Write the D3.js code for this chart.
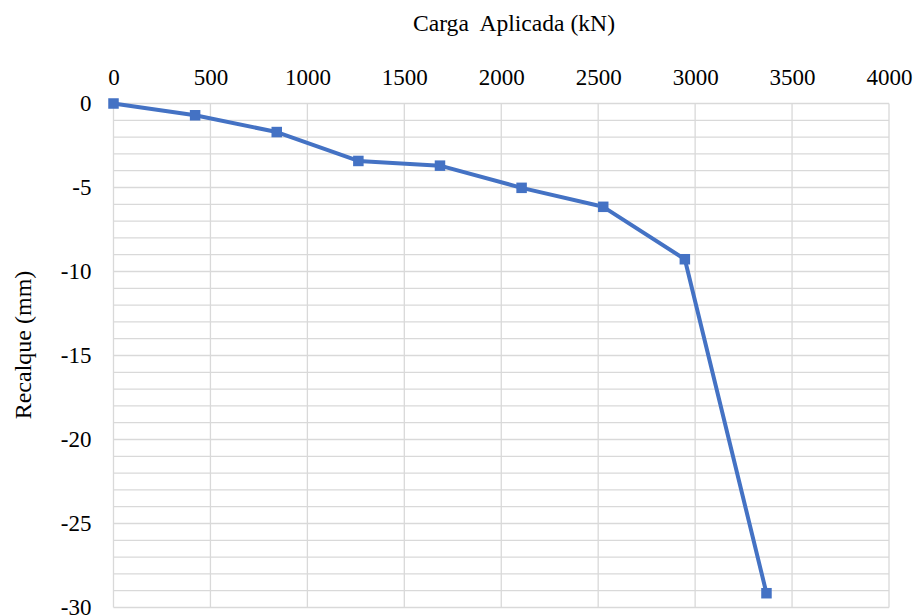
<!DOCTYPE html>
<html>
<head>
<meta charset="utf-8">
<script src="https://cdn.jsdelivr.net/npm/d3@7"></script>
<style>
  html, body { margin: 0; padding: 0; background: #fff; }
  svg text { fill: #000; white-space: pre; }
</style>
</head>
<body>
<svg id="chart" width="916" height="615"></svg>
<script>
// Load test: applied load (kN) vs settlement (mm)
const cargas = [0, 421, 842, 1263, 1684, 2105, 2526, 2947, 3368];
const recalques = [0, -0.7, -1.7, -3.42, -3.7, -5.02, -6.15, -9.27, -29.15];
const xTicks = [0, 500, 1000, 1500, 2000, 2500, 3000, 3500, 4000];
const yTicks = [0, -5, -10, -15, -20, -25, -30];
const yMinor = d3.range(0, -31, -1);

const FONT = "'Liberation Serif', 'Times New Roman', serif";
const svg = d3.select("#chart");
const margin = { left: 113.5, right: 916 - 889, top: 103.5, bottom: 615 - 607.5 };
const W = 916 - margin.left - margin.right;
const H = 615 - margin.top - margin.bottom;

const x = d3.scaleLinear().domain([0, 4000]).range([0, W]);
const y = d3.scaleLinear().domain([0, -30]).range([0, H]);

const g = svg.append("g").attr("transform", `translate(${margin.left},${margin.top})`);

// gridlines: every 1 mm horizontally, every 500 kN vertically
g.append("g").selectAll("line").data(yMinor).join("line")
  .attr("x1", 0).attr("x2", W)
  .attr("y1", d => y(d)).attr("y2", d => y(d))
  .attr("stroke", "#d9d9d9").attr("stroke-width", 1.3);
g.append("g").selectAll("line").data(xTicks).join("line")
  .attr("y1", 0).attr("y2", H)
  .attr("x1", d => x(d)).attr("x2", d => x(d))
  .attr("stroke", "#d9d9d9").attr("stroke-width", 1.3);

// axes (labels only)
const xAxis = g.append("g").call(d3.axisTop(x).tickValues(xTicks).tickSize(0).tickPadding(18.5).tickFormat(d3.format("d")));
xAxis.attr("font-family", FONT).select(".domain").remove();
xAxis.selectAll("text").attr("font-size", 23).attr("font-family", FONT);

const yAxis = g.append("g").call(d3.axisLeft(y).tickValues(yTicks).tickSize(0).tickPadding(22).tickFormat(d => d));
yAxis.attr("font-family", FONT).select(".domain").remove();
yAxis.selectAll("text").attr("font-size", 23).attr("font-family", FONT);

// series
const pts = cargas.map((c, i) => [c, recalques[i]]);
g.append("path").datum(pts)
  .attr("fill", "none").attr("stroke", "#4472C4").attr("stroke-width", 4)
  .attr("stroke-linejoin", "round")
  .attr("d", d3.line().x(d => x(d[0])).y(d => y(d[1])));

const s = 10.5;
g.selectAll("rect.m").data(pts).join("rect")
  .attr("x", d => x(d[0]) - s / 2).attr("y", d => y(d[1]) - s / 2)
  .attr("width", s).attr("height", s).attr("fill", "#4472C4");

// titles
svg.append("text").attr("x", 514).attr("y", 31).attr("text-anchor", "middle")
  .attr("font-family", FONT).attr("font-size", 23.6).text("Carga  Aplicada (kN)");
svg.append("text").attr("transform", "translate(31,345) rotate(-90)").attr("text-anchor", "middle")
  .attr("font-family", FONT).attr("font-size", 24).text("Recalque (mm)");
</script>
</body>
</html>
